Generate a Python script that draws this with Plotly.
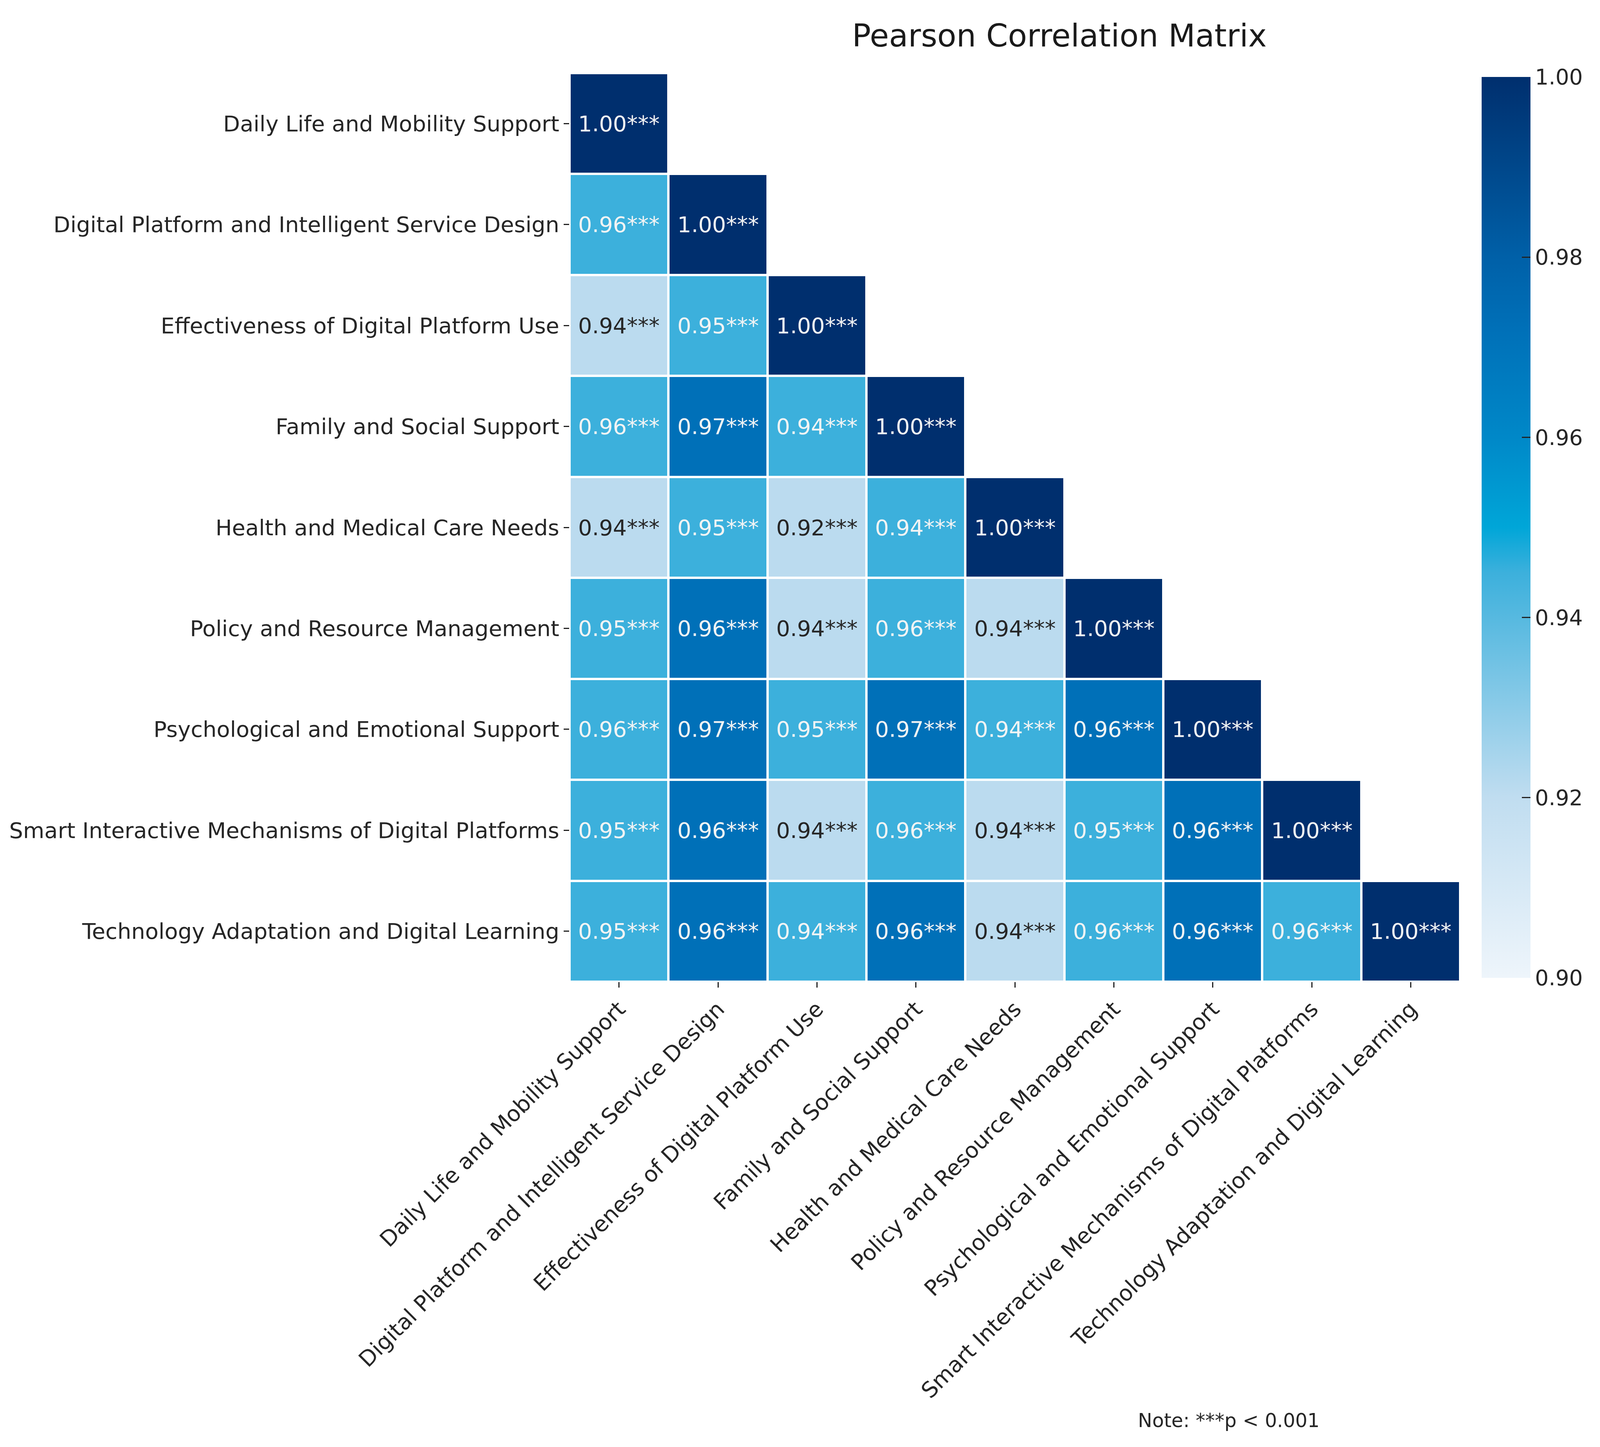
import plotly.graph_objects as go

labels = [
    "Daily Life and Mobility Support",
    "Digital Platform and Intelligent Service Design",
    "Effectiveness of Digital Platform Use",
    "Family and Social Support",
    "Health and Medical Care Needs",
    "Policy and Resource Management",
    "Psychological and Emotional Support",
    "Smart Interactive Mechanisms of Digital Platforms",
    "Technology Adaptation and Digital Learning",
]

# Displayed (rounded) correlation values, lower triangle, row by row
r_display = [
    [1.00],
    [0.96, 1.00],
    [0.94, 0.95, 1.00],
    [0.96, 0.97, 0.94, 1.00],
    [0.94, 0.95, 0.92, 0.94, 1.00],
    [0.95, 0.96, 0.94, 0.96, 0.94, 1.00],
    [0.96, 0.97, 0.95, 0.97, 0.94, 0.96, 1.00],
    [0.95, 0.96, 0.94, 0.96, 0.94, 0.95, 0.96, 1.00],
    [0.95, 0.96, 0.94, 0.96, 0.94, 0.96, 0.96, 0.96, 1.00],
]

# Unrounded values estimated from the cell shading
r_shade = [
    [1.000],
    [0.945, 1.000],
    [0.921, 0.945, 1.000],
    [0.945, 0.972, 0.945, 1.000],
    [0.921, 0.945, 0.921, 0.945, 1.000],
    [0.945, 0.972, 0.921, 0.945, 0.921, 1.000],
    [0.945, 0.972, 0.945, 0.972, 0.945, 0.972, 1.000],
    [0.945, 0.972, 0.921, 0.945, 0.921, 0.945, 0.972, 1.000],
    [0.945, 0.972, 0.945, 0.972, 0.921, 0.945, 0.972, 0.945, 1.000],
]

stars = "***"
note_text = "Note: ***p < 0.001"
title_text = "Pearson Correlation Matrix"
cb_ticks = [0.90, 0.92, 0.94, 0.96, 0.98, 1.00]

n = len(labels)
z = [[(r_shade[i][j] if j <= i else None) for j in range(n)] for i in range(n)]

colorscale = [
    [0.00, "#eef5fb"],
    [0.20, "#c0ddf0"],
    [0.45, "#3cb0dc"],
    [0.50, "#00a6d8"],
    [0.60, "#0088c8"],
    [0.72, "#0070b8"],
    [0.80, "#0060a8"],
    [1.00, "#002f6e"],
]

FONT = "DejaVu Sans"
W, H = 4080, 3670

fig = go.Figure(
    go.Heatmap(
        z=z,
        x=labels,
        y=labels,
        zmin=0.90,
        zmax=1.00,
        colorscale=colorscale,
        xgap=6,
        ygap=6,
        hoverongaps=False,
        colorbar=dict(
            x=1.0241,
            xanchor="left",
            xref="paper",
            xpad=0,
            y=0.5,
            yanchor="middle",
            len=1.0,
            thickness=125,
            outlinewidth=0,
            tickvals=cb_ticks,
            ticktext=[f"{v:.2f}" for v in cb_ticks],
            ticks="inside",
            ticklen=22,
            tickwidth=3,
            tickcolor="#222222",
            tickfont=dict(family=FONT, size=55, color="#262626"),
        ),
    )
)

annotations = []
for i in range(n):
    for j in range(i + 1):
        light = r_shade[i][j] < 0.93
        annotations.append(
            dict(
                x=labels[j],
                y=labels[i],
                xref="x",
                yref="y",
                text=f"{r_display[i][j]:.2f}{stars}",
                showarrow=False,
                font=dict(family=FONT, size=56, color="#262626" if light else "#f4f4f4"),
            )
        )

annotations.append(
    dict(
        x=0.740,
        y=-0.483,
        xref="paper",
        yref="paper",
        text=note_text,
        showarrow=False,
        xanchor="center",
        yanchor="middle",
        font=dict(family=FONT, size=49, color="#262626"),
    )
)

fig.update_layout(
    width=W,
    height=H,
    margin=dict(l=1450, r=350, t=179, b=1165),
    paper_bgcolor="white",
    plot_bgcolor="white",
    title=dict(
        text=title_text,
        x=0.55,
        xref="paper",
        xanchor="center",
        y=1 - 83 / H,
        yref="container",
        yanchor="middle",
        font=dict(family=FONT, size=80, color="#1a1a1a"),
    ),
    annotations=annotations,
    xaxis=dict(
        tickangle=-45,
        ticks="outside",
        ticklen=14,
        tickwidth=3,
        tickcolor="#222222",
        tickfont=dict(family=FONT, size=56, color="#262626"),
        showgrid=False,
        zeroline=False,
        showline=False,
    ),
    yaxis=dict(
        autorange="reversed",
        ticks="outside",
        ticklen=14,
        tickwidth=3,
        tickcolor="#222222",
        tickfont=dict(family=FONT, size=56, color="#262626"),
        showgrid=False,
        zeroline=False,
        showline=False,
    ),
)

fig.write_html("out.html")
